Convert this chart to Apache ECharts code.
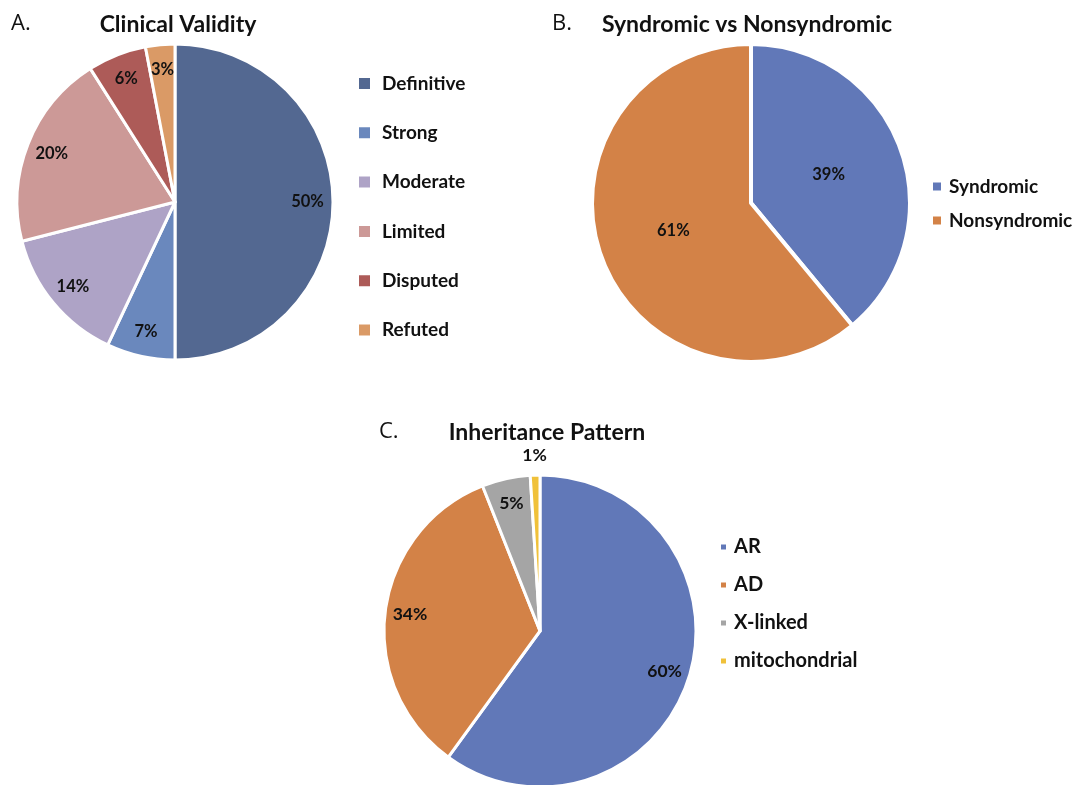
<!DOCTYPE html>
<html>
<head>
<meta charset="utf-8">
<script src="https://cdn.jsdelivr.net/npm/echarts@6/dist/echarts.min.js"></script>
<style>
  html, body { margin: 0; padding: 0; background: #fff; }
  #chart { width: 1075px; height: 785px; }
</style>
</head>
<body>
<div id="chart"></div>
<script>
// A. clinical validity
const validityNames = ["Definitive", "Strong", "Moderate", "Limited", "Disputed", "Refuted"];
const validityValues = [50, 7, 14, 20, 6, 3];
const validityColors = ["#536891", "#6a88bd", "#aea3c6", "#cc9997", "#ad5b58", "#da9a66"];
// B. syndromic vs nonsyndromic
const syndromeNames = ["Syndromic", "Nonsyndromic"];
const syndromeValues = [39, 61];
const syndromeColors = ["#6178b8", "#d38247"];
// C. inheritance
const inheritNames = ["AR", "AD", "X-linked", "mitochondrial"];
const inheritValues = [60, 34, 5, 1];
const inheritColors = ["#6178b8", "#d38247", "#a5a5a5", "#f0c13a"];

const FONT = "Lato";
const pct = (p) => p.value + "%";

const toData = (names, values, colors) =>
  names.map((n, i) => ({ name: n, value: values[i], itemStyle: { color: colors[i] } }));

// main pie, no labels
const mainPie = (names, values, colors, center, r, border) => ({
  type: "pie",
  center: center,
  radius: r,
  startAngle: 90,
  label: { show: false },
  labelLine: { show: false },
  emphasis: { disabled: true },
  itemStyle: { borderColor: "#fff", borderWidth: border },
  data: toData(names, values, colors)
});

// transparent ring only to put labels where excel put them
const labelRing = (names, values, center, inner, outer, size, shown) => ({
  type: "pie",
  center: center,
  radius: [inner, outer],
  startAngle: 90,
  silent: true,
  label: {
    show: true, position: "inside", formatter: pct,
    color: "#111", fontFamily: FONT, fontWeight: "bold", fontSize: size
  },
  labelLine: { show: false },
  itemStyle: { color: "transparent", borderWidth: 0 },
  data: names.map((n, i) => ({
    name: n, value: values[i],
    label: { show: shown ? shown[i] : true }
  }))
});

const legendText = (size, gap) => ({
  fontFamily: FONT, fontWeight: "bold", fontSize: size, color: "#111",
  padding: [0, 0, 0, gap]
});

const chart = echarts.init(document.getElementById("chart"));
chart.setOption({
  backgroundColor: "#fff",
  animation: false,
  title: [
    { text: "A.", left: 6, top: 8, textStyle: { fontFamily: "Open Sans", fontWeight: "normal", fontSize: 22, color: "#111" } },
    { text: "Clinical Validity", left: 173, top: 8, textAlign: "center", textStyle: { fontFamily: FONT, fontWeight: "bold", fontSize: 23, color: "#111" } },
    { text: "B.", left: 547, top: 8, textStyle: { fontFamily: "Open Sans", fontWeight: "normal", fontSize: 22, color: "#111" } },
    { text: "Syndromic vs Nonsyndromic", left: 742, top: 8, textAlign: "center", textStyle: { fontFamily: FONT, fontWeight: "bold", fontSize: 23, color: "#111" } },
    { text: "C.", left: 374, top: 416, textStyle: { fontFamily: "Open Sans", fontWeight: "normal", fontSize: 22, color: "#111" } },
    { text: "Inheritance Pattern", left: 542, top: 416, textAlign: "center", textStyle: { fontFamily: FONT, fontWeight: "bold", fontSize: 23, color: "#111" } }
  ],
  legend: [
    {
      data: validityNames, orient: "vertical", left: 357, top: 74, padding: 0,
      icon: "rect", itemWidth: 13, itemHeight: 13, itemGap: 30.3,
      textStyle: legendText(19, 6), selectedMode: false
    },
    {
      data: syndromeNames, orient: "vertical", left: 931, top: 177, padding: 0,
      icon: "rect", itemWidth: 10, itemHeight: 10, itemGap: 15,
      textStyle: legendText(19, 2), selectedMode: false
    },
    {
      data: inheritNames, orient: "vertical", left: 719, top: 537, padding: 0,
      icon: "rect", itemWidth: 7, itemHeight: 7, itemGap: 18,
      textStyle: legendText(20, 2), selectedMode: false
    }
  ],
  series: [
    mainPie(validityNames, validityValues, validityColors, [175, 202], 158, 3),
    mainPie(syndromeNames, syndromeValues, syndromeColors, [751, 203], 159, 4),
    mainPie(inheritNames, inheritValues, inheritColors, [540, 631], 156, 3),
    labelRing(validityNames, validityValues, [175, 202], 101, 158, 16.5),
    labelRing(syndromeNames, syndromeValues, [751, 203], 0, 159, 16.5),
    labelRing(inheritNames, inheritValues, [540, 631], 100, 156, 17.5, [true, true, true, false]),
    // outer ring: only the tiny 1% slice gets its label outside the pie
    labelRing(inheritNames, inheritValues, [540, 631], 156, 190, 17.5, [false, false, false, true])
  ]
});
</script>
</body>
</html>
